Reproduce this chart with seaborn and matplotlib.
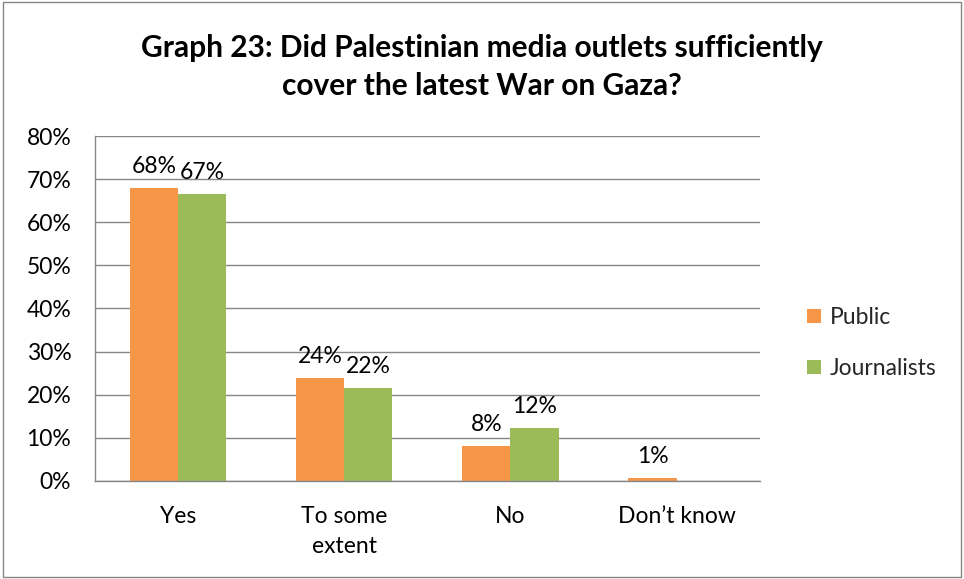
import matplotlib
matplotlib.use("Agg")
import matplotlib.pyplot as plt
import seaborn as sns
import pandas as pd
from matplotlib.patches import Rectangle

categories = ["Yes", "To some\nextent", "No", "Don\u2019t know"]
series = ["Public", "Journalists"]
public = [68.0, 23.9, 8.1, 0.7]
journalists = [66.6, 21.6, 12.3, 0.0]
yticks = [0, 10, 20, 30, 40, 50, 60, 70, 80]

colors = {"Public": "#F79646", "Journalists": "#9BBB59"}

df = pd.DataFrame({
    "category": categories * 2,
    "series": ["Public"] * len(categories) + ["Journalists"] * len(categories),
    "value": public + journalists,
})

sns.set_theme(style="white")
plt.rcParams["font.family"] = ["Lato", "DejaVu Sans"]

fig = plt.figure(figsize=(9.64, 5.79), dpi=100)
ax = fig.add_axes([0.0985, 0.1693, 0.6895, 0.5958])

sns.barplot(data=df, x="category", y="value", hue="series", order=categories,
            hue_order=series, palette=colors, width=0.58, gap=0,
            saturation=1, ax=ax, legend=True, edgecolor="none")

ax.set_ylim(0, 80)
ax.set_yticks(yticks)
ax.set_yticklabels([f"{t}%" for t in yticks], fontsize=16.5, color="#000000")
ax.tick_params(axis="x", labelsize=16.5, colors="#000000", pad=18, length=0)
ax.tick_params(axis="y", pad=17, length=0)
for lbl in ax.get_xticklabels():
    lbl.set_linespacing(1.55)
ax.set_xlabel("")
ax.set_ylabel("")
ax.yaxis.grid(True, color="#868686", linewidth=1)
ax.set_axisbelow(True)
for side in ["top", "right"]:
    ax.spines[side].set_visible(False)
for side in ["left", "bottom"]:
    ax.spines[side].set_color("#868686")
    ax.spines[side].set_linewidth(1)

# value labels, skipping empty bars
for container in ax.containers:
    labels = [f"{round(b.get_height()):.0f}%" if b.get_height() > 0 else ""
              for b in container]
    ax.bar_label(container, labels=labels, padding=8, fontsize=16.5, color="#000000")

leg = ax.legend(loc="center left", bbox_to_anchor=(1.04, 0.40), frameon=False,
                fontsize=16.5, handlelength=0.6, handleheight=0.6,
                handletextpad=0.4, labelspacing=1.3)

fig.text(0.5, 0.884, "Graph 23: Did Palestinian media outlets sufficiently\ncover the latest War on Gaza?",
         ha="center", va="center", fontsize=21.5, fontweight="bold",
         linespacing=1.45, color="#000000")

fig.patches.append(Rectangle((0.003, 0.003), 0.994, 0.994, transform=fig.transFigure,
                             fill=False, edgecolor="#868686", linewidth=1))

fig.savefig("out.png", dpi=100)
